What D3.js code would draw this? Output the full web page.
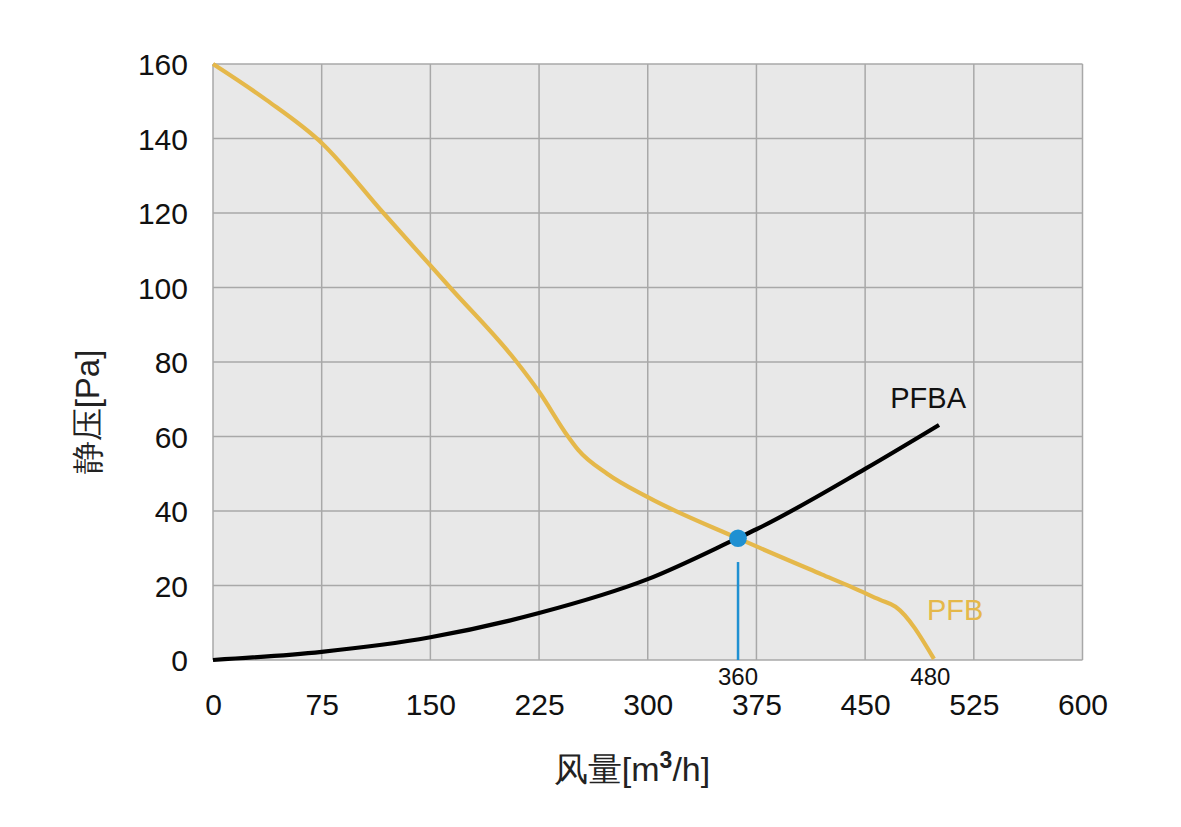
<!DOCTYPE html>
<html>
<head>
<meta charset="utf-8">
<script src="https://cdn.jsdelivr.net/npm/d3@7/dist/d3.min.js"></script>
<style>
  html, body { margin: 0; padding: 0; background: #fff; }
  svg { display: block; }
  text { font-family: "Liberation Sans", Arial, Helvetica, sans-serif; }
</style>
</head>
<body>
<svg id="chart" width="1181" height="827"></svg>
<script>
// ---- data ----
const xTicks = [0, 75, 150, 225, 300, 375, 450, 525, 600];
const yTicks = [0, 20, 40, 60, 80, 100, 120, 140, 160];

const pfbX = [0, 37, 75, 117.6, 163.6, 209.6, 225, 245, 252, 272, 300, 362, 420, 440, 460, 471, 497.5];
const pfbY = [160, 150.3, 138.8, 120, 100, 80, 72, 60, 56.4, 50, 43.7, 32.7, 23, 19.7, 16.2, 14.3, 0.3];

const pfbaX = [0, 75, 150, 225, 300, 362, 375, 450, 501];
const pfbaY = [0, 2.2, 6.1, 12.6, 21.7, 32.7, 35.1, 51.3, 63.1];

const seriesNames = ["PFB", "PFBA"];
const operatingPoint = { x: 362.3, y: 32.7, lineTop: 26.3 };
const annotations = [
  { x: 362.3, label: "360" },
  { x: 495, label: "480" }
];
const yTitle = "静压[Pa]";

// ---- layout ----
const svg = d3.select("#chart");
const pLeft = 213, pTop = 64, pRight = 1082.5, pBottom = 660;

const x = d3.scaleLinear().domain([0, 600]).range([pLeft, pRight]);
const y = d3.scaleLinear().domain([0, 160]).range([pBottom, pTop]);

// background
svg.append("rect")
  .attr("x", pLeft).attr("y", pTop)
  .attr("width", pRight - pLeft).attr("height", pBottom - pTop)
  .attr("fill", "#e8e8e8");

// grid
const grid = svg.append("g").attr("stroke", "#a8a8a8").attr("stroke-width", 1.5);
grid.selectAll("line.v").data(xTicks).join("line").attr("class", "v")
  .attr("x1", d => x(d)).attr("x2", d => x(d))
  .attr("y1", pTop).attr("y2", pBottom);
grid.selectAll("line.h").data(yTicks).join("line").attr("class", "h")
  .attr("x1", pLeft).attr("x2", pRight)
  .attr("y1", d => y(d)).attr("y2", d => y(d));

// axes (labels only)
const xAxis = d3.axisBottom(x).tickValues(xTicks).tickSize(0).tickPadding(0).tickFormat(d3.format("d"));
const gx = svg.append("g").attr("transform", `translate(0,${pBottom})`).call(xAxis);
gx.select(".domain").remove();
gx.selectAll("text")
  .attr("font-size", 30).attr("fill", "#111")
  .attr("dy", null).attr("y", 55)
  .attr("font-family", "'Liberation Sans', Arial, sans-serif");

const yAxis = d3.axisLeft(y).tickValues(yTicks).tickSize(0).tickPadding(0).tickFormat(d3.format("d"));
const gy = svg.append("g").attr("transform", `translate(${pLeft},0)`).call(yAxis);
gy.select(".domain").remove();
gy.selectAll("text")
  .attr("font-size", 30).attr("fill", "#111")
  .attr("x", -25).attr("dy", "0.36em")
  .attr("font-family", "'Liberation Sans', Arial, sans-serif");

// curves
const pfb = pfbX.map((d, i) => [d, pfbY[i]]);
const pfba = pfbaX.map((d, i) => [d, pfbaY[i]]);
const line = d3.line().x(d => x(d[0])).y(d => y(d[1])).curve(d3.curveMonotoneX);

svg.append("path").attr("d", line(pfb))
  .attr("fill", "none").attr("stroke", "#e5b84a").attr("stroke-width", 4.2)
  .attr("stroke-linecap", "butt");
svg.append("path").attr("d", line(pfba))
  .attr("fill", "none").attr("stroke", "#000").attr("stroke-width", 4.2)
  .attr("stroke-linecap", "butt");

// operating point
svg.append("line")
  .attr("x1", x(operatingPoint.x)).attr("x2", x(operatingPoint.x))
  .attr("y1", y(operatingPoint.lineTop)).attr("y2", y(0))
  .attr("stroke", "#1f90d2").attr("stroke-width", 2.5);
svg.append("circle")
  .attr("cx", x(operatingPoint.x)).attr("cy", y(operatingPoint.y)).attr("r", 8.8)
  .attr("fill", "#1f90d2");

// annotations
svg.selectAll("text.ann").data(annotations).join("text")
  .attr("class", "ann")
  .attr("x", d => x(d.x)).attr("y", 685)
  .attr("text-anchor", "middle").attr("font-size", 24).attr("fill", "#111")
  .text(d => d.label);

// series labels
svg.append("text").attr("x", x(pfbaX[pfbaX.length - 1]) + 27).attr("y", 408)
  .attr("text-anchor", "end").attr("font-size", 29).attr("fill", "#111")
  .text(seriesNames[1]);
svg.append("text").attr("x", 927).attr("y", 620)
  .attr("font-size", 29).attr("fill", "#e5b84a")
  .text(seriesNames[0]);

// axis titles
const xt = svg.append("text").attr("x", 632).attr("y", 781)
  .attr("text-anchor", "middle").attr("font-size", 34).attr("fill", "#222")
  .attr("font-family", "'Noto Sans CJK SC', 'Liberation Sans', sans-serif");
xt.append("tspan").text("风量[m");
xt.append("tspan").attr("font-size", 23).attr("font-weight", "bold").attr("dy", -13).text("3");
xt.append("tspan").attr("dy", 13).text("/h]");

svg.append("text")
  .attr("transform", "translate(99,412) rotate(-90)")
  .attr("text-anchor", "middle").attr("font-size", 33).attr("fill", "#222")
  .attr("font-family", "'Noto Sans CJK SC', 'Liberation Sans', sans-serif")
  .text(yTitle);
</script>
</body>
</html>
